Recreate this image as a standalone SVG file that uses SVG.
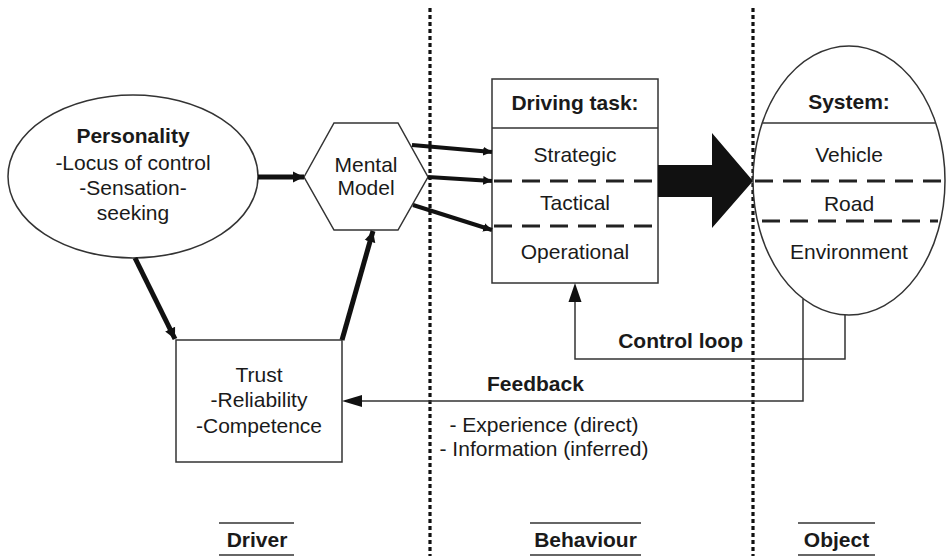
<svg xmlns="http://www.w3.org/2000/svg" width="947" height="556" viewBox="0 0 947 556">
<style>
text{font-family:"Liberation Sans",Arial,sans-serif;font-size:21px;fill:#1a1a1a;text-anchor:middle}
.b{font-weight:bold}
.shape{fill:#fff;stroke:#333;stroke-width:1.5}
.thin{fill:none;stroke:#333;stroke-width:1.5}
.thick{fill:none;stroke:#111;stroke-width:5}
.med{fill:none;stroke:#111;stroke-width:4}
.dash{fill:none;stroke:#222;stroke-width:3;stroke-dasharray:18 10}
.dot{fill:none;stroke:#111;stroke-width:3.2;stroke-dasharray:4 3}
.rule{stroke:#333;stroke-width:1.5}
</style>
<defs>
<marker id="ah" viewBox="0 0 10 10" refX="10" refY="5" markerWidth="2.2" markerHeight="2.9" orient="auto" markerUnits="strokeWidth">
<path d="M0,0 L10,5 L0,10 z" fill="#111"/>
</marker>
</defs>
<rect width="947" height="556" fill="#fff"/>
<g id="dividers">
<line class="dot" x1="430" y1="8" x2="430" y2="556"/>
<line class="dot" x1="753" y1="8" x2="753" y2="556"/>
</g>
<g id="personality">
<ellipse class="shape" cx="133" cy="176.5" rx="125" ry="81.5"/>
<text class="b" x="133" y="143">Personality</text>
<text x="133" y="170">-Locus of control</text>
<text x="133" y="195">-Sensation-</text>
<text x="133" y="220">seeking</text>
</g>
<g id="mental-model">
<polygon class="shape" points="304,177 334,123 398,123 428,177 398,230 334,230"/>
<text x="366" y="172">Mental</text>
<text x="366" y="195">Model</text>
</g>
<g id="trust">
<rect class="shape" x="176" y="340" width="166" height="122"/>
<text x="259" y="382">Trust</text>
<text x="259" y="407">-Reliability</text>
<text x="259" y="433">-Competence</text>
</g>
<g id="driving-task">
<rect class="shape" x="492" y="79" width="166" height="204"/>
<line class="rule" x1="492" y1="128" x2="658" y2="128"/>
<line class="dash" x1="494" y1="181" x2="658" y2="181"/>
<line class="dash" x1="494" y1="226" x2="658" y2="226"/>
<text class="b" x="575" y="110">Driving task:</text>
<text x="575" y="162">Strategic</text>
<text x="575" y="210">Tactical</text>
<text x="575" y="259">Operational</text>
</g>
<g id="system">
<ellipse class="shape" cx="849" cy="180.5" rx="96" ry="134.5"/>
<line class="rule" x1="763" y1="123" x2="935" y2="123"/>
<line class="dash" x1="755" y1="181" x2="947" y2="181"/>
<line class="dash" x1="762" y1="221" x2="938" y2="221"/>
<text class="b" x="849" y="109">System:</text>
<text x="849" y="162">Vehicle</text>
<text x="849" y="211">Road</text>
<text x="849" y="259">Environment</text>
</g>
<g id="connectors">
<line class="thick" x1="258" y1="177" x2="304" y2="177" marker-end="url(#ah)"/>
<line class="med" x1="412" y1="145" x2="492" y2="152" marker-end="url(#ah)"/>
<line class="med" x1="428" y1="177" x2="492" y2="181" marker-end="url(#ah)"/>
<line class="med" x1="413" y1="205" x2="492" y2="230" marker-end="url(#ah)"/>
<line class="thick" x1="135" y1="258" x2="175" y2="339" marker-end="url(#ah)"/>
<line class="thick" x1="342" y1="340" x2="373" y2="231" marker-end="url(#ah)"/>
<polygon points="658,165 712,165 712,133 753,181 712,228 712,197 658,197" fill="#111"/>
<polyline class="thin" points="845,315 845,359 575,359 575,300"/>
<polygon points="575,283 581.5,302 568.5,302" fill="#111"/>
<polyline class="thin" points="803,299 803,401 360,401"/>
<polygon points="342,401 362,395 362,407" fill="#111"/>
</g>
<g id="labels">
<text class="b" x="743" y="348" style="text-anchor:end">Control loop</text>
<text class="b" x="487" y="391" style="text-anchor:start">Feedback</text>
<text x="544" y="432">- Experience (direct)</text>
<text x="544" y="456">- Information (inferred)</text>
</g>
<g id="columns">
<line class="rule" x1="219" y1="523" x2="294" y2="523"/>
<line class="rule" x1="219" y1="555" x2="294" y2="555"/>
<text class="b" x="257" y="547">Driver</text>
<line class="rule" x1="530" y1="523" x2="641" y2="523"/>
<line class="rule" x1="530" y1="555" x2="641" y2="555"/>
<text class="b" x="585.5" y="547">Behaviour</text>
<line class="rule" x1="798" y1="523" x2="875" y2="523"/>
<line class="rule" x1="798" y1="555" x2="875" y2="555"/>
<text class="b" x="836.5" y="547">Object</text>
</g>
</svg>
